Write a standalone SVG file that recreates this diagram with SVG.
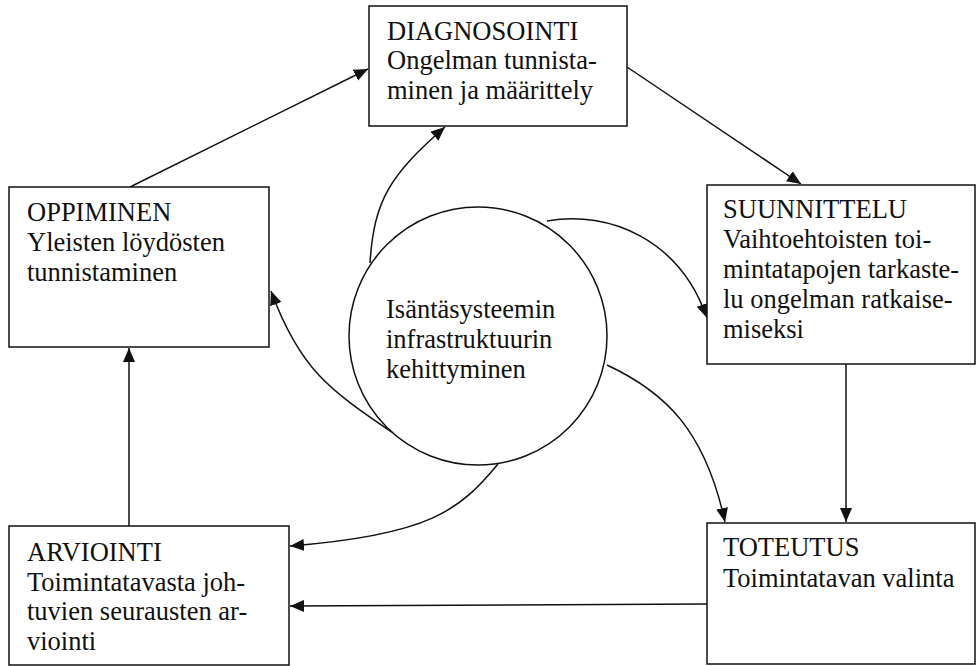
<svg xmlns="http://www.w3.org/2000/svg" width="976" height="666" viewBox="0 0 976 666">
<defs>
<marker id="ah" markerUnits="userSpaceOnUse" markerWidth="16" markerHeight="13" refX="14" refY="6" orient="auto">
<path d="M0,0 L14,6 L0,12 z" fill="#111"/>
</marker>
<style>
.box{fill:#fff;stroke:#111;stroke-width:1.5}
.t{font-family:"Liberation Serif","Times New Roman",serif;font-size:26.5px;fill:#111}
.c{fill:none;stroke:#111;stroke-width:1.5;marker-end:url(#ah)}
</style>
</defs>
<rect width="976" height="666" fill="#fff"/>
<g id="connectors">
<path class="c" d="M130,187 L368,69"/>
<path class="c" d="M627,67 L801,184"/>
<path class="c" d="M846,364 L846,522"/>
<path class="c" d="M707,604 L290,606"/>
<path class="c" d="M129,526 L129,348"/>
<path class="c" d="M370,263 C374,200 390,175 445,127"/>
<path class="c" d="M547,221 C610,210 680,240 707,318"/>
<path class="c" d="M393,433 C330,390 300,370 271,291"/>
<path class="c" d="M607,365 C665,392 705,430 725,522"/>
<path class="c" d="M498,464 C460,510 430,535 290,546"/>
</g>
<g id="diagnosointi">
<rect class="box" x="369" y="6" width="258" height="120"/>
<text class="t" x="387" y="40">DIAGNOSOINTI</text>
<text class="t" x="387" y="69">Ongelman tunnista-</text>
<text class="t" x="387" y="99">minen ja määrittely</text>
</g>
<g id="oppiminen">
<rect class="box" x="9" y="187" width="260" height="160"/>
<text class="t" x="27" y="221">OPPIMINEN</text>
<text class="t" x="27" y="251">Yleisten löydösten</text>
<text class="t" x="27" y="281">tunnistaminen</text>
</g>
<g id="suunnittelu">
<rect class="box" x="707" y="185" width="268" height="179"/>
<text class="t" x="723" y="218">SUUNNITTELU</text>
<text class="t" x="723" y="248">Vaihtoehtoisten toi-</text>
<text class="t" x="723" y="278">mintatapojen tarkaste-</text>
<text class="t" x="723" y="308">lu ongelman ratkaise-</text>
<text class="t" x="723" y="338">miseksi</text>
</g>
<g id="arviointi">
<rect class="box" x="9" y="526" width="280" height="139"/>
<text class="t" x="27" y="561">ARVIOINTI</text>
<text class="t" x="27" y="591">Toimintatavasta joh-</text>
<text class="t" x="27" y="620">tuvien seurausten ar-</text>
<text class="t" x="27" y="650">viointi</text>
</g>
<g id="toteutus">
<rect class="box" x="707" y="523" width="268" height="141"/>
<text class="t" x="723" y="556">TOTEUTUS</text>
<text class="t" x="723" y="587">Toimintatavan valinta</text>
</g>
<g id="infrastruktuuri">
<circle class="box" cx="478" cy="336" r="129"/>
<text class="t" x="386" y="318">Isäntäsysteemin</text>
<text class="t" x="386" y="348">infrastruktuurin</text>
<text class="t" x="386" y="378">kehittyminen</text>
</g>
</svg>
